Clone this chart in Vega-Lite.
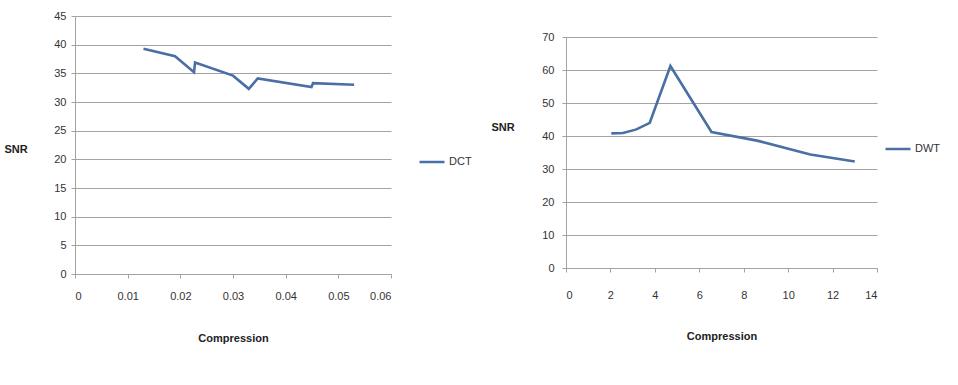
{
  "$schema": "https://vega.github.io/schema/vega-lite/v6.json",
  "background": "white",
  "padding": {"left": 4, "top": 10, "right": 5, "bottom": 5},
  "config": {
    "font": "Liberation Sans",
    "view": {"stroke": null},
    "concat": {"spacing": 19},
    "axis": {
      "gridColor": "#a3a3a3",
      "domainColor": "#a3a3a3",
      "tickColor": "#a3a3a3",
      "labelColor": "#333333",
      "labelFontSize": 11,
      "titleFontSize": 11,
      "titleFontWeight": "bold",
      "titleColor": "#222222",
      "tickSize": 4
    },
    "axisX": {"grid": false},
    "axisY": {"grid": true},
    "legend": {"labelFontSize": 11, "labelColor": "#333333", "padding": 0, "symbolType": "stroke", "symbolSize": 625, "symbolStrokeWidth": 2.5, "labelOffset": 3}
  },
  "resolve": {"scale": {"color": "independent"}, "legend": {"color": "independent"}},
  "hconcat": [
    {
      "width": 316,
      "height": 258,
      "data": {"values": [
        {"compression": 0.013, "snr": 39.3, "series": "DCT"},
        {"compression": 0.019, "snr": 38.0, "series": "DCT"},
        {"compression": 0.0226, "snr": 35.2, "series": "DCT"},
        {"compression": 0.0228, "snr": 36.9, "series": "DCT"},
        {"compression": 0.030, "snr": 34.6, "series": "DCT"},
        {"compression": 0.033, "snr": 32.3, "series": "DCT"},
        {"compression": 0.0347, "snr": 34.1, "series": "DCT"},
        {"compression": 0.0449, "snr": 32.6, "series": "DCT"},
        {"compression": 0.0452, "snr": 33.3, "series": "DCT"},
        {"compression": 0.053, "snr": 33.0, "series": "DCT"}
      ]},
      "mark": {"type": "line", "strokeWidth": 2.6},
      "encoding": {
        "x": {
          "field": "compression", "type": "quantitative",
          "scale": {"domain": [0, 0.06], "nice": false, "zero": true},
          "axis": {"values": [0, 0.01, 0.02, 0.03, 0.04, 0.05, 0.06], "format": "~g", "title": "Compression", "labelPadding": 12, "titlePadding": 31}
        },
        "y": {
          "field": "snr", "type": "quantitative",
          "scale": {"domain": [0, 45], "nice": false},
          "axis": {"values": [0, 5, 10, 15, 20, 25, 30, 35, 40, 45], "title": "SNR", "titleAngle": 0, "titleX": -71, "titleY": 133, "titleAlign": "left", "titleBaseline": "middle", "labelPadding": 5}
        },
        "color": {
          "field": "series", "type": "nominal",
          "scale": {"range": ["#4a6fa5"]},
          "legend": {"title": null, "orient": "none", "legendX": 343, "legendY": 132}
        }
      }
    },
    {
      "width": 311,
      "height": 252,
      "data": {"values": [
        {"compression": 2.04, "snr": 40.8, "series": "DWT"},
        {"compression": 2.57, "snr": 40.9, "series": "DWT"},
        {"compression": 3.17, "snr": 42.0, "series": "DWT"},
        {"compression": 3.77, "snr": 44.0, "series": "DWT"},
        {"compression": 4.7, "snr": 61.2, "series": "DWT"},
        {"compression": 6.55, "snr": 41.2, "series": "DWT"},
        {"compression": 8.6, "snr": 38.6, "series": "DWT"},
        {"compression": 11.0, "snr": 34.4, "series": "DWT"},
        {"compression": 13.0, "snr": 32.3, "series": "DWT"}
      ]},
      "mark": {"type": "line", "strokeWidth": 2.6},
      "encoding": {
        "x": {
          "field": "compression", "type": "quantitative",
          "scale": {"domain": [0, 14], "nice": false},
          "axis": {"values": [0, 2, 4, 6, 8, 10, 12, 14], "title": "Compression", "labelPadding": 17, "titlePadding": 30}
        },
        "y": {
          "field": "snr", "type": "quantitative",
          "scale": {"domain": [0, 70], "nice": false, "range": [252, 21]},
          "axis": {"values": [0, 10, 20, 30, 40, 50, 60, 70], "title": "SNR", "titleAngle": 0, "titleX": -75, "titleY": 111, "titleAlign": "left", "titleBaseline": "middle", "labelPadding": 8}
        },
        "color": {
          "field": "series", "type": "nominal",
          "scale": {"range": ["#4a6fa5"]},
          "legend": {"title": null, "orient": "none", "legendX": 318, "legendY": 119}
        }
      }
    }
  ]
}
